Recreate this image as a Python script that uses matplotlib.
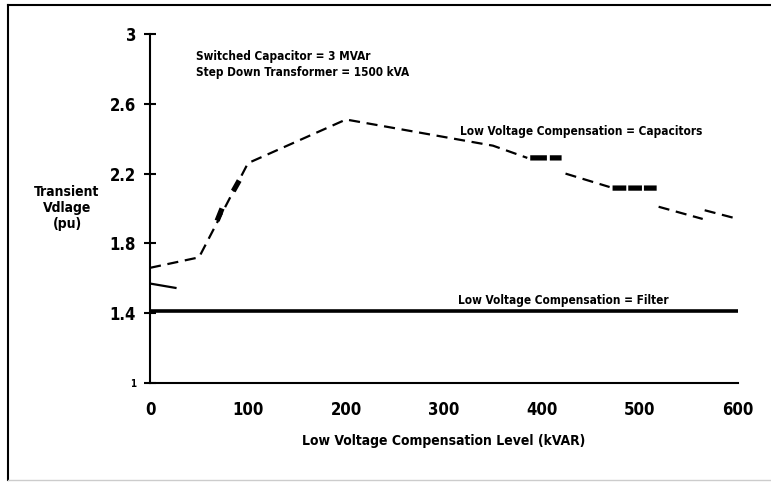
import matplotlib
matplotlib.use("Agg")
import matplotlib.pyplot as plt
from matplotlib.lines import Line2D

nan = float('nan')
# Data (NaN = break in the traced curve)
cap_x = [0, 50, 100, 200, 300, 350, 385, nan, 424, 469, nan, 519, 564, nan, 566, 600]
cap_y = [1.66, 1.72, 2.26, 2.51, 2.41, 2.36, 2.29, nan, 2.20, 2.123, nan, 2.01, 1.94, nan, 1.99, 1.94]
# heavy dash blocks on the capacitor curve
heavy_x = [68.5, 73.5, nan, 85, 91, nan, 388, 405, nan, 408, 420, nan, 472, 486, nan, 488, 502, nan, 504, 517]
heavy_y = [1.93, 2.00, nan, 2.10, 2.16, nan, 2.29, 2.29, nan, 2.29, 2.29, nan, 2.117, 2.117, nan, 2.117, 2.117, nan, 2.117, 2.117]
filt_x = [0, 600]
filt_y = [1.41, 1.41]
stub_x = [0, 26]
stub_y = [1.57, 1.545]
xticks = [0, 100, 200, 300, 400, 500, 600]
yticks = [1, 1.4, 1.8, 2.2, 2.6, 3]
yticklabels = ["1", "1.4", "1.8", "2.2", "2.6", "3"]

FONT = ["DejaVu Sans Condensed", "DejaVu Sans"]
plt.rcParams['font.family'] = FONT
plt.rcParams['font.weight'] = 'bold'
plt.rcParams['font.stretch'] = 'condensed'

fig = plt.figure(figsize=(7.71, 4.83), dpi=100)
ax = fig.add_axes([150/771, 1-383/483, (738-150)/771, (383-34)/483])

ax.plot(cap_x, cap_y, color='black', lw=1.6, linestyle=(0, (5, 3)))
ax.plot(heavy_x, heavy_y, color='black', lw=3.8, solid_capstyle='butt')
ax.plot(filt_x, filt_y, color='black', lw=2.6, solid_capstyle='butt')
ax.plot(stub_x, stub_y, color='black', lw=1.6)

ax.set_xlim(0, 600)
ax.set_ylim(1, 3)
ax.set_xticks(xticks)
ax.set_yticks(yticks)
ax.set_yticklabels(yticklabels)
for s in ['top', 'right']:
    ax.spines[s].set_visible(False)
for s in ['left', 'bottom']:
    ax.spines[s].set_linewidth(1.5)
ax.tick_params(axis='y', direction='inout', length=8, width=1.5, labelsize=12, pad=6)
ax.tick_params(axis='x', length=0, labelsize=12, pad=13)
for lab in ax.get_xticklabels() + ax.get_yticklabels():
    lab.set_fontweight('bold')
ax.get_yticklabels()[0].set_fontsize(7)

ax.set_xlabel("Low Voltage Compensation Level (kVAR)", fontsize=10, fontweight='bold', labelpad=11)
fig.text(67/771, 1-208/483, "Transient\nVdlage\n(pu)", ha='center', va='center',
         fontsize=10, fontweight='bold', linespacing=1.15)

ax.text(47, 2.87, "Switched Capacitor = 3 MVAr", fontsize=8.5, fontweight='bold', va='center')
ax.text(47, 2.78, "Step Down Transformer = 1500 kVA", fontsize=8.5, fontweight='bold', va='center')
ax.text(316, 2.44, "Low Voltage Compensation = Capacitors", fontsize=8.5, fontweight='bold', va='center')
ax.text(314, 1.47, "Low Voltage Compensation = Filter", fontsize=8.5, fontweight='bold', va='center')

# outer frame
fig.add_artist(Line2D([8/771, 8/771], [1-5/483, 1-480/483], transform=fig.transFigure, color='black', lw=1.5))
fig.add_artist(Line2D([8/771, 1], [1-5/483, 1-5/483], transform=fig.transFigure, color='black', lw=1.5))
fig.add_artist(Line2D([8/771, 1], [1-480/483, 1-480/483], transform=fig.transFigure, color='#cccccc', lw=1))

fig.savefig("out.png", dpi=100)
